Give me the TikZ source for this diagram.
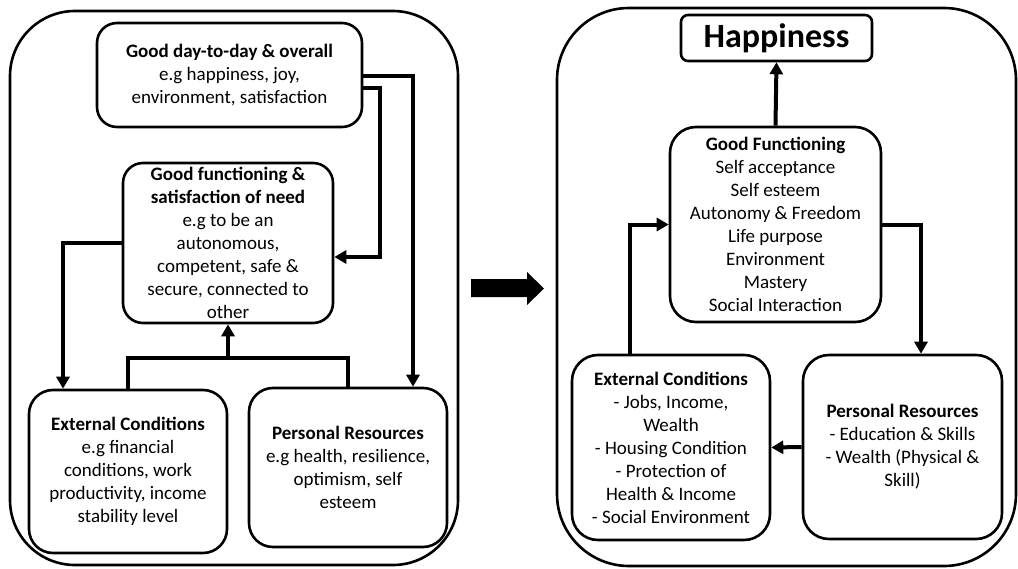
\documentclass[tikz,border=0pt]{standalone}
\usepackage{fontspec}
\setmainfont{Carlito}
\usetikzlibrary{arrows.meta}
\begin{document}
\begin{tikzpicture}[x=1pt,y=-1pt,
  box/.style={draw, line width=2.6pt, rounded corners=20pt, align=center, inner sep=0pt,
    font={\fontsize{19}{23}\selectfont}},
  outer/.style={draw, line width=2.6pt},
  conn/.style={line width=4pt, -{Triangle[length=12pt,width=13pt]}},
  plain/.style={line width=4pt}]
\useasboundingbox (0,0) rectangle (1018,568);
% outer frames
\draw[outer, rounded corners=65pt] (10,11) rectangle (458,565);
\draw[outer, rounded corners=72pt] (557,8) rectangle (1016,566);
% left panel
\node[box, minimum width=265pt, minimum height=104pt] (top) at (229.5,75)
  {\textbf{Good day-to-day \& overall}\\e.g happiness, joy,\\environment, satisfaction};
\node[box, minimum width=210pt, minimum height=160pt] (need) at (228,243)
  {\textbf{Good functioning \&}\\\textbf{satisfaction of need}\\e.g to be an\\autonomous,\\competent, safe \&\\secure, connected to\\other};
\node[box, minimum width=198pt, minimum height=163pt, rounded corners=24pt] (extL) at (128,471.5)
  {\textbf{External Conditions}\\e.g financial\\conditions, work\\productivity, income\\stability level};
\node[box, minimum width=198pt, minimum height=159pt, rounded corners=24pt] (persL) at (348,467.5)
  {\textbf{Personal Resources}\\e.g health, resilience,\\optimism, self\\esteem};
% left connectors
\draw[conn] ([yshift=-1pt]top.east) -| ([xshift=65pt]persL.north);
\coordinate (c1) at (380,257);
\draw[conn] ([yshift=-13pt]top.east) -| (c1) -- (need.east |- c1);
\draw[conn] (need.west) -| ([xshift=-65pt]extL.north);
\coordinate (j) at (228,358);
\draw[plain] (extL.north) |- (j) -| (persL.north);
\draw[conn] (j) -- (need.south);
% middle arrow
\fill (471,279) -- (527,279) -- (527,272) -- (544,288.5) -- (527,305) -- (527,297) -- (471,297) -- cycle;
% right panel
\node[box, minimum width=191pt, minimum height=46pt, rounded corners=7pt,
  font={\fontsize{34}{40}\selectfont\bfseries}] (happy) at (776.5,38) {Happiness};
\node[box, minimum width=211pt, minimum height=195pt, rounded corners=26pt] (gf) at (775.5,224.5)
  {\textbf{Good Functioning}\\Self acceptance\\Self esteem\\Autonomy \& Freedom\\Life purpose\\Environment\\Mastery\\Social Interaction};
\node[box, minimum width=198pt, minimum height=185pt, rounded corners=26pt] (extR) at (671,447.5)
  {\textbf{External Conditions}\\- Jobs, Income,\\Wealth\\- Housing Condition\\- Protection of\\Health \& Income\\- Social Environment};
\node[box, minimum width=199pt, minimum height=184pt, rounded corners=26pt] (persR) at (902.5,447)
  {\textbf{Personal Resources}\\- Education \& Skills\\- Wealth (Physical \&\\Skill)};
% right connectors
\draw[conn] (gf.north) -- (happy.south);
\draw[conn] ([xshift=-41pt]extR.north) |- (gf.west);
\draw[conn] (gf.east) -| ([xshift=18.5pt]persR.north);
\draw[conn] (persR.west) -- (extR.east);
\end{tikzpicture}
\end{document}
